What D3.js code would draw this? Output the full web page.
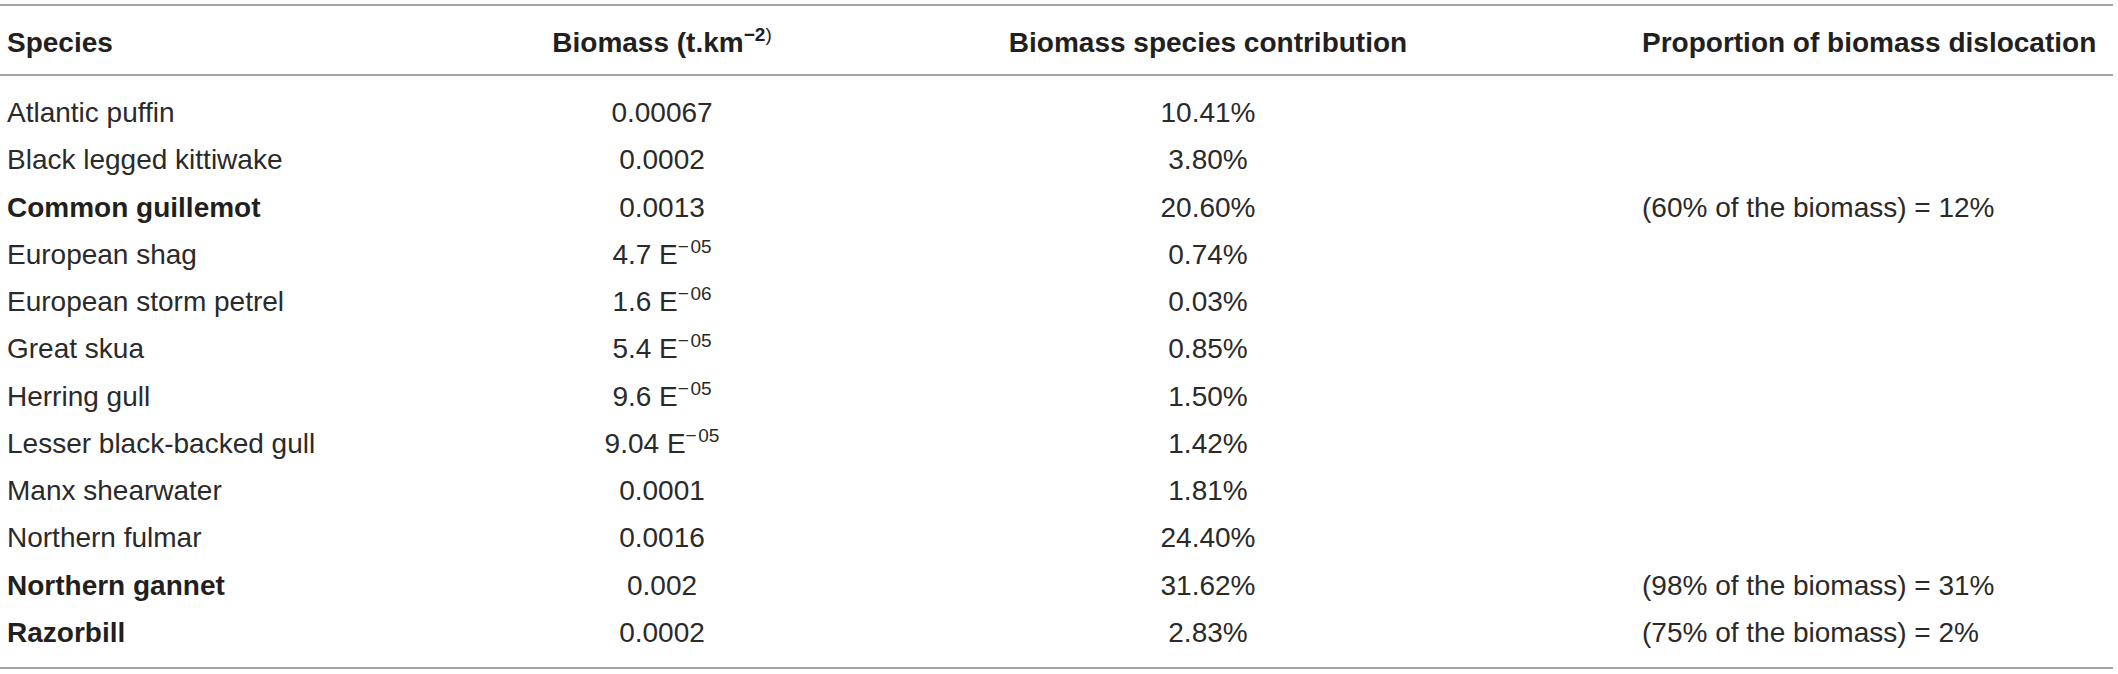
<!DOCTYPE html>
<html>
<head>
<meta charset="utf-8">
<script src="https://cdn.jsdelivr.net/npm/d3@7"></script>
<style>
  html, body { margin: 0; padding: 0; background: #fff; }
  svg { display: block; }
  text { font-family: "Liberation Sans", Arial, Helvetica, sans-serif; }
</style>
</head>
<body>
<svg id="chart" width="2118" height="674"></svg>
<script>
// ---- data ----
const headers = ["Species", "Biomass (t.km", "Biomass species contribution", "Proportion of biomass dislocation"];
const species = [
  "Atlantic puffin", "Black legged kittiwake", "Common guillemot", "European shag",
  "European storm petrel", "Great skua", "Herring gull", "Lesser black-backed gull",
  "Manx shearwater", "Northern fulmar", "Northern gannet", "Razorbill"
];
const boldSpecies = ["Common guillemot", "Northern gannet", "Razorbill"];
const biomass = ["0.00067", "0.0002", "0.0013", "4.7E-05", "1.6E-06", "5.4E-05",
  "9.6E-05", "9.04E-05", "0.0001", "0.0016", "0.002", "0.0002"];
const contribution = [10.41, 3.80, 20.60, 0.74, 0.03, 0.85, 1.50, 1.42, 1.81, 24.40, 31.62, 2.83];
const dislocation = ["", "", "(60% of the biomass) = 12%", "", "", "", "", "", "", "",
  "(98% of the biomass) = 31%", "(75% of the biomass) = 2%"];

// ---- layout ----
const svg = d3.select("#chart");
const fs = 28, supFs = 19;
const textCol = "#231f20";
const regCol = "#2a2a2a";
const ruleCol = "#a3a3a3";

const y = d3.scaleBand().domain(species).range([88.4, 655.6]);
const colX = { species: 7, biomass: 662, contrib: 1208, disloc: 1642 };
const headerBaseline = 52;

// rules
const rules = [5, 75, 668];
svg.selectAll("line.rule").data(rules).enter().append("line")
  .attr("class", "rule")
  .attr("x1", 0).attr("x2", 2113)
  .attr("y1", d => d).attr("y2", d => d)
  .attr("stroke", ruleCol).attr("stroke-width", 2);

// headers
const hdr = svg.append("g").attr("font-weight", "bold").attr("font-size", fs).attr("fill", textCol);
hdr.append("text").attr("x", colX.species).attr("y", headerBaseline).text(headers[0]);
const h2 = hdr.append("text").attr("x", colX.biomass).attr("y", headerBaseline).attr("text-anchor", "middle");
h2.append("tspan").text(headers[1]);
h2.append("tspan").attr("font-size", supFs).attr("dy", -11).text("\u22122");
h2.append("tspan").attr("font-size", supFs).attr("font-weight", "normal").text(")");
hdr.append("text").attr("x", colX.contrib).attr("y", headerBaseline).attr("text-anchor", "middle").text(headers[2]);
hdr.append("text").attr("x", colX.disloc).attr("y", headerBaseline).text(headers[3]);

// rows
const rows = species.map((s, i) => ({
  s, b: biomass[i], c: contribution[i], d: dislocation[i]
}));
const base = d => y(d.s) + y.bandwidth() / 2 + 10;

const g = svg.append("g").attr("font-size", fs).attr("fill", regCol);

g.selectAll("text.sp").data(rows).enter().append("text")
  .attr("class", "sp")
  .attr("x", colX.species).attr("y", base)
  .attr("font-weight", d => boldSpecies.includes(d.s) ? "bold" : "normal")
  .attr("fill", d => boldSpecies.includes(d.s) ? textCol : regCol)
  .text(d => d.s);

const bt = g.selectAll("text.bm").data(rows).enter().append("text")
  .attr("class", "bm")
  .attr("x", colX.biomass).attr("y", base)
  .attr("text-anchor", "middle");
bt.each(function(d) {
  const t = d3.select(this);
  const m = d.b.match(/^([\d.]+)E-(\d+)$/);
  if (m) {
    t.append("tspan").text(m[1] + " E");
    t.append("tspan").attr("font-size", supFs).attr("dy", -11).text("\u2212\u200a" + m[2]);
  } else {
    t.text(d.b);
  }
});

g.selectAll("text.ct").data(rows).enter().append("text")
  .attr("class", "ct")
  .attr("x", colX.contrib).attr("y", base)
  .attr("text-anchor", "middle")
  .text(d => d.c.toFixed(2) + "%");

g.selectAll("text.dl").data(rows.filter(d => d.d)).enter().append("text")
  .attr("class", "dl")
  .attr("x", colX.disloc).attr("y", base)
  .text(d => d.d);
</script>
</body>
</html>
